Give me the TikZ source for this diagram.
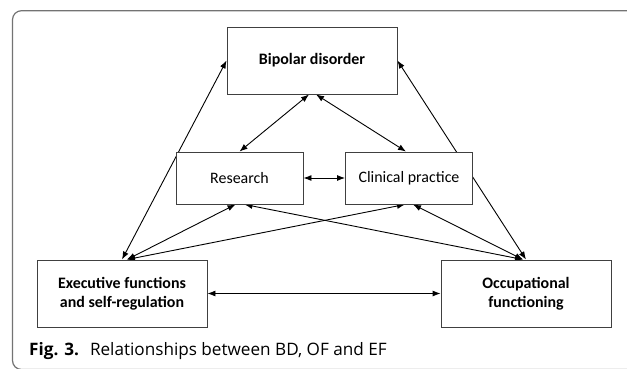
\documentclass[tikz,border=0pt]{standalone}
\usepackage{fontspec}
\setmainfont{Carlito}
\newfontfamily\capfont{Open Sans}
\usetikzlibrary{arrows.meta,backgrounds}

\begin{document}
\begin{tikzpicture}[x=1bp, y=-1bp, >={Latex[length=8bp,width=6bp]},
    box/.style={draw=black!75, fill=white, line width=0.9bp, align=center,
      inner sep=0pt, font=\fontsize{16}{19.5}\selectfont},
    bigbox/.style={box, minimum width=170bp, minimum height=67bp},
    smallbox/.style={box, minimum width=127bp, minimum height=52bp},
    link/.style={<->, line width=0.9bp}]
    \useasboundingbox (0,0) rectangle (627,368);

    % outer frame of the figure
    \draw[black!55, line width=1.2bp, rounded corners=9bp] (12.5,10.7) rectangle (680,369.5);

    \node[bigbox] (bd) at (312,60.5) {\textbf{Bipolar disorder}};
    \node[smallbox] (rs) at (239.5,178) {Research};
    \node[smallbox] (cp) at (409,178) {Clinical practice};
    \node[bigbox] (ef) at (122,293.5) {\textbf{Executive functions}\\\textbf{and self-regulation}};
    \node[bigbox] (of) at (526,293.5) {\textbf{Occupational}\\\textbf{functioning}};

    \begin{pgfonlayer}{background}
      \draw[link] (bd.west) -- (ef.north);
      \draw[link] (bd.east) -- (of.north);
      \draw[link] ([xshift=-3bp]bd.south) -- (rs.north);
      \draw[link] ([xshift=4bp]bd.south) -- ([xshift=-3bp]cp.north);
      \draw[link] (rs.east) -- (cp.west);

      \draw[link] ([xshift=5bp]ef.north) -- ([xshift=-4bp]rs.south);
      \draw[link] ([xshift=5bp]ef.north) -- ([xshift=-4bp]cp.south);
      \draw[link] ([xshift=-3bp]of.north) -- ([xshift=5bp]rs.south);
      \draw[link] ([xshift=-3bp]of.north) -- ([xshift=4bp]cp.south);
      \draw[link] (ef.east) -- (of.west);
    \end{pgfonlayer}

    \node[anchor=base west, inner sep=0pt, font=\capfont\fontsize{17.2}{20}\selectfont] (cap) at (29,355)
      {\textbf{Fig. 3.}\hspace{11bp}Relationships between BD, OF and EF};
\end{tikzpicture}
\end{document}
